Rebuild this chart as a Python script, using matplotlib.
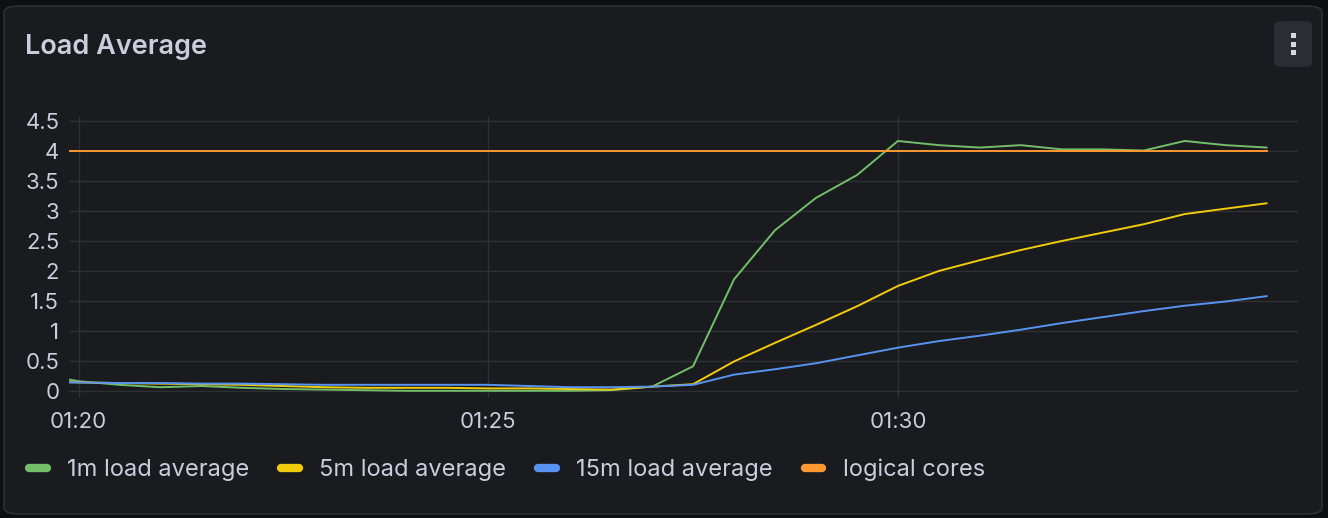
import pandas as pd
import matplotlib
matplotlib.use("Agg")
import matplotlib.pyplot as plt
import matplotlib.dates as mdates
from matplotlib.patches import FancyBboxPatch
from matplotlib.lines import Line2D

plt.rcParams['font.family'] = ['Inter', 'DejaVu Sans']

# samples every 30 s
times = ["01:19:30", "01:20:00", "01:20:30", "01:21:00", "01:21:30", "01:22:00",
         "01:22:30", "01:23:00", "01:23:30", "01:24:00", "01:24:30", "01:25:00",
         "01:25:30", "01:26:00", "01:26:30", "01:27:00", "01:27:30", "01:28:00",
         "01:28:30", "01:29:00", "01:29:30", "01:30:00", "01:30:30", "01:31:00",
         "01:31:30", "01:32:00", "01:32:30", "01:33:00", "01:33:30", "01:34:00",
         "01:34:30"]
load_1m = [0.28, 0.16, 0.10, 0.06, 0.08, 0.05, 0.03, 0.02, 0.01, 0.0, 0.0, 0.0,
           0.0, 0.0, 0.01, 0.07, 0.41, 1.86, 2.68, 3.22, 3.60, 4.17, 4.10, 4.06,
           4.10, 4.03, 4.03, 4.01, 4.17, 4.10, 4.06]
load_5m = [0.16, 0.14, 0.13, 0.12, 0.11, 0.10, 0.08, 0.06, 0.05, 0.05, 0.05, 0.04,
           0.04, 0.03, 0.02, 0.07, 0.11, 0.49, 0.80, 1.10, 1.41, 1.75, 2.00, 2.18,
           2.35, 2.50, 2.64, 2.78, 2.95, 3.04, 3.13]
load_15m = [0.14, 0.14, 0.13, 0.13, 0.12, 0.12, 0.11, 0.10, 0.10, 0.10, 0.10, 0.10,
            0.08, 0.06, 0.06, 0.07, 0.10, 0.27, 0.36, 0.46, 0.59, 0.72, 0.83, 0.92,
            1.02, 1.13, 1.23, 1.33, 1.42, 1.49, 1.58]
logical_cores = [4] * len(times)

series = [("1m load average", load_1m, "#73BF69"),
          ("5m load average", load_5m, "#F2CC0C"),
          ("15m load average", load_15m, "#5794F2"),
          ("logical cores", logical_cores, "#FF9830")]

x = pd.to_datetime(["2024-01-01 " + t for t in times])

BG = "#1a1b1f"
TXT = "#ccccdc"
GRID = "#2e3035"

fig = plt.figure(figsize=(13.28, 5.18), dpi=100, facecolor="#0e0f11")
panel = FancyBboxPatch((4 / 1328, 4 / 518), 1318 / 1328, 508 / 518,
                       boxstyle="round,pad=0,rounding_size=0.012",
                       transform=fig.transFigure, facecolor=BG,
                       edgecolor="#2c2f34", linewidth=1.2, zorder=0)
fig.patches.append(panel)

# menu button
btn = FancyBboxPatch((1274 / 1328, 1 - 67 / 518), 38 / 1328, 46 / 518,
                     boxstyle="round,pad=0,rounding_size=0.008",
                     transform=fig.transFigure, facecolor="#2a2d33",
                     edgecolor="none", zorder=1)
fig.patches.append(btn)
for dy in (35, 44, 52):
    fig.patches.append(plt.Rectangle(((1293 - 2.5) / 1328, 1 - (dy + 2.5) / 518),
                                     5 / 1328, 5 / 518, transform=fig.transFigure,
                                     facecolor="#d8d9e0", edgecolor="none", zorder=2))

fig.text(25 / 1328, 1 - 47 / 518, "Load Average", color=TXT, fontsize=19.5,
         fontweight="semibold", va="center", ha="left", zorder=3)

ax = fig.add_axes([69 / 1328, 1 - 398 / 518, 1229 / 1328, 281 / 518], zorder=5)
ax.set_facecolor("none")

for label, vals, color in series:
    ax.plot(x, vals, color=color, linewidth=1.4, label=label)

t0 = pd.Timestamp("2024-01-01 01:19:53")
t1 = pd.Timestamp("2024-01-01 01:34:53")
ax.set_xlim(t0, t1)
ax.set_ylim(-0.12, 4.57)

ax.set_yticks([0, 0.5, 1, 1.5, 2, 2.5, 3, 3.5, 4, 4.5])
ax.yaxis.set_major_formatter(plt.FuncFormatter(lambda v, p: f"{v:g}"))
ax.xaxis.set_major_locator(mdates.MinuteLocator(byminute=[20, 25, 30]))
ax.xaxis.set_major_formatter(mdates.DateFormatter("%H:%M"))

ax.tick_params(axis="both", length=0, colors=TXT, labelsize=16)
ax.tick_params(axis="y", pad=7)
ax.tick_params(axis="x", pad=10)
ax.grid(True, color=GRID, linewidth=1)
ax.set_axisbelow(True)
for s in ax.spines.values():
    s.set_visible(False)

handles = [Line2D([], [], color=c, linewidth=6, solid_capstyle="round")
           for _, _, c in series]
leg = fig.legend(handles, [s[0] for s in series], loc="center left",
                 bbox_to_anchor=(29 / 1328, 1 - 470 / 518), ncol=4, frameon=False,
                 fontsize=17, handlelength=0.76, handletextpad=0.85,
                 columnspacing=1.35, labelcolor=TXT, borderpad=0, borderaxespad=0)
leg.set_zorder(6)

fig.savefig("out.png", dpi=100, facecolor=fig.get_facecolor())
